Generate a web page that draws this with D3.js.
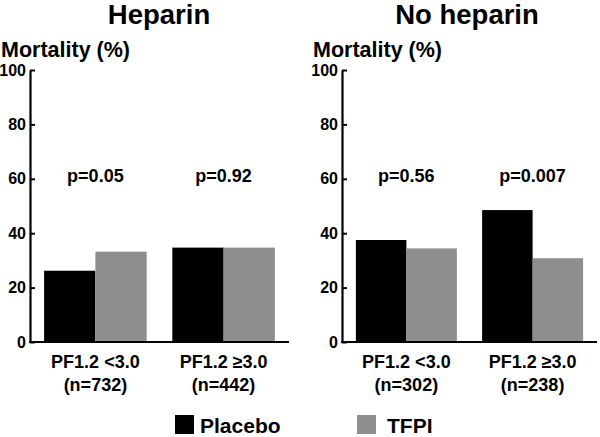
<!DOCTYPE html>
<html>
<head>
<meta charset="utf-8">
<script src="https://cdn.jsdelivr.net/npm/d3@7"></script>
<style>
  html, body { margin: 0; padding: 0; background: #fff; }
  svg { display: block; font-family: "Liberation Sans", Arial, sans-serif; }
</style>
</head>
<body>
<svg id="chart" width="600" height="437"></svg>
<script>
// ---- data ----
const categories = ["PF1.2 <3.0", "PF1.2 \u22653.0"];
const series = ["Placebo", "TFPI"];
const panelTitles = ["Heparin", "No heparin"];
const heparinPlacebo = [26.2, 34.7];
const heparinTFPI = [33.2, 34.7];
const noHeparinPlacebo = [37.5, 48.5];
const noHeparinTFPI = [34.4, 30.8];
const heparinN = ["(n=732)", "(n=442)"];
const noHeparinN = ["(n=302)", "(n=238)"];
const heparinP = ["p=0.05", "p=0.92"];
const noHeparinP = ["p=0.56", "p=0.007"];
const yTicks = [0, 20, 40, 60, 80, 100];
const yLabel = "Mortality (%)";

const colors = { "Placebo": "#000000", "TFPI": "#8e8e8e" };

const panels = [
  { title: panelTitles[0], placebo: heparinPlacebo, tfpi: heparinTFPI, n: heparinN, p: heparinP,
    x0: 30, x1: 289, titleX: 159, labelX: 1 },
  { title: panelTitles[1], placebo: noHeparinPlacebo, tfpi: noHeparinTFPI, n: noHeparinN, p: noHeparinP,
    x0: 342, x1: 597, titleX: 467, labelX: 313 }
];

const svg = d3.select("#chart");
const y = d3.scaleLinear().domain([0, 100]).range([342, 70]);

panels.forEach(pn => {
  const g = svg.append("g");
  const x = d3.scaleBand().domain(categories).range([pn.x0, pn.x1])
    .paddingInner(0.2).paddingOuter(0.11);
  const xs = d3.scaleBand().domain(series).range([0, x.bandwidth()]);

  // title
  g.append("text").attr("x", pn.titleX).attr("y", 24)
    .attr("text-anchor", "middle").style("font-size", "27.5px").attr("font-weight", "bold")
    .text(pn.title);
  // y label
  g.append("text").attr("x", pn.labelX).attr("y", 57)
    .style("font-size", "21.5px").attr("font-weight", "bold").text(yLabel);

  // bars
  const rows = categories.map((c, i) => ({ c, i, vals: [pn.placebo[i], pn.tfpi[i]] }));
  const grp = g.selectAll("g.grp").data(rows).join("g")
    .attr("transform", d => `translate(${x(d.c)},0)`);
  grp.selectAll("rect").data(d => series.map((s, k) => ({ s, v: d.vals[k] }))).join("rect")
    .attr("x", d => xs(d.s)).attr("width", xs.bandwidth())
    .attr("y", d => y(d.v)).attr("height", d => y(0) - y(d.v))
    .attr("fill", d => colors[d.s]);

  // p-values
  g.selectAll("text.p").data(pn.p).join("text").attr("class", "p")
    .attr("x", (d, i) => x(categories[i]) + x.bandwidth() / 2).attr("y", 182)
    .attr("text-anchor", "middle").style("font-size", "18px").attr("font-weight", "bold")
    .text(d => d);

  // y axis
  const ya = g.append("g").attr("transform", `translate(${pn.x0},0)`)
    .call(d3.axisLeft(y).tickValues(yTicks).tickSize(-5).tickSizeOuter(0).tickPadding(4));
  ya.attr("font-size", 16).attr("font-weight", "bold")
    .attr("font-family", "'Liberation Sans', Arial, sans-serif");
  ya.select(".domain").attr("stroke-width", 2.2);
  ya.selectAll(".tick line").attr("stroke-width", 2);
  ya.selectAll(".tick text").attr("fill", "#000");

  // x axis line
  const xa = g.append("g").attr("transform", `translate(0,${y(0)})`)
    .call(d3.axisBottom(x).tickSize(0).tickFormat(""));
  xa.select(".domain").attr("d", `M${pn.x0 - 1},0H${pn.x1}`).attr("stroke-width", 2.2);

  // category labels
  const lab = g.selectAll("text.cat").data(categories).join("text").attr("class", "cat")
    .attr("text-anchor", "middle").style("font-size", "18px").attr("font-weight", "bold");
  lab.append("tspan").attr("x", d => x(d) + x.bandwidth() / 2).attr("y", 368).text(d => d);
  lab.append("tspan").attr("x", d => x(d) + x.bandwidth() / 2).attr("y", 391)
    .text((d, i) => pn.n[i]);
});

// legend
const legendPos = { "Placebo": 175, "TFPI": 357 };
const lg = svg.selectAll("g.leg").data(series).join("g").attr("class", "leg")
  .attr("transform", d => `translate(${legendPos[d]},415)`);
lg.append("rect").attr("width", 19).attr("height", 19).attr("fill", d => colors[d]);
lg.append("text").attr("x", d => d === "Placebo" ? 25 : 30).attr("y", 18)
  .style("font-size", "21px").attr("font-weight", "bold").text(d => d);
</script>
</body>
</html>
